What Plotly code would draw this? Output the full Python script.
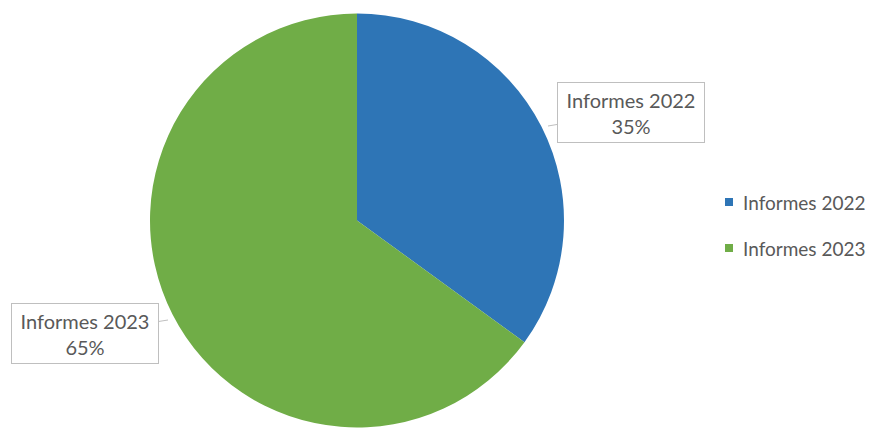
import plotly.graph_objects as go

categories = ["Informes 2022", "Informes 2023"]
values = [35, 65]
colors = ["#2E75B6", "#70AD47"]

W, H = 876, 430
FONT = "Lato"
TXT = "#595959"

def px(x):
    return x / W

def py(y):
    return 1 - y / H

fig = go.Figure()
fig.add_trace(go.Pie(
    labels=categories,
    values=values,
    marker=dict(colors=colors, line=dict(width=0)),
    sort=False,
    direction="clockwise",
    rotation=0,
    textinfo="none",
    hoverinfo="label+percent",
    showlegend=False,
    domain=dict(x=[px(150), px(564)], y=[py(428), py(13)]),
))

total = sum(values)
# callout label boxes: (tip x, tip y, box center x, box center y)
callouts = [(548, 126, 631, 112), (168, 320, 85, 333)]
for cat, val, (tx, ty, bx, by) in zip(categories, values, callouts):
    fig.add_annotation(
        x=px(tx), y=py(ty), xref="paper", yref="paper",
        text=f"{cat}<br>{round(100 * val / total)}%",
        showarrow=True, arrowhead=0, arrowwidth=1, arrowcolor="#BFBFBF",
        ax=bx - tx, ay=by - ty,
        width=146, height=59,
        bordercolor="#BFBFBF", borderwidth=1, borderpad=0,
        bgcolor="white",
        font=dict(family=FONT, size=20, color=TXT),
        align="center",
    )

# legend drawn as swatches + text
legend_rows = [202, 248]
for cat, col, ry in zip(categories, colors, legend_rows):
    fig.add_shape(type="rect", xref="paper", yref="paper",
                  x0=px(725), x1=px(733), y0=py(ry + 4), y1=py(ry - 4),
                  fillcolor=col, line=dict(width=0))
    fig.add_annotation(x=px(741), y=py(ry), xref="paper", yref="paper",
                       text=cat, showarrow=False, xanchor="left", yanchor="middle",
                       font=dict(family=FONT, size=19, color=TXT))

fig.update_layout(
    width=W, height=H,
    margin=dict(l=0, r=0, t=0, b=0),
    paper_bgcolor="white",
    showlegend=False,
)

fig.write_html("out.html", config={"displayModeBar": False},
               post_script="document.body.style.margin='0';")
